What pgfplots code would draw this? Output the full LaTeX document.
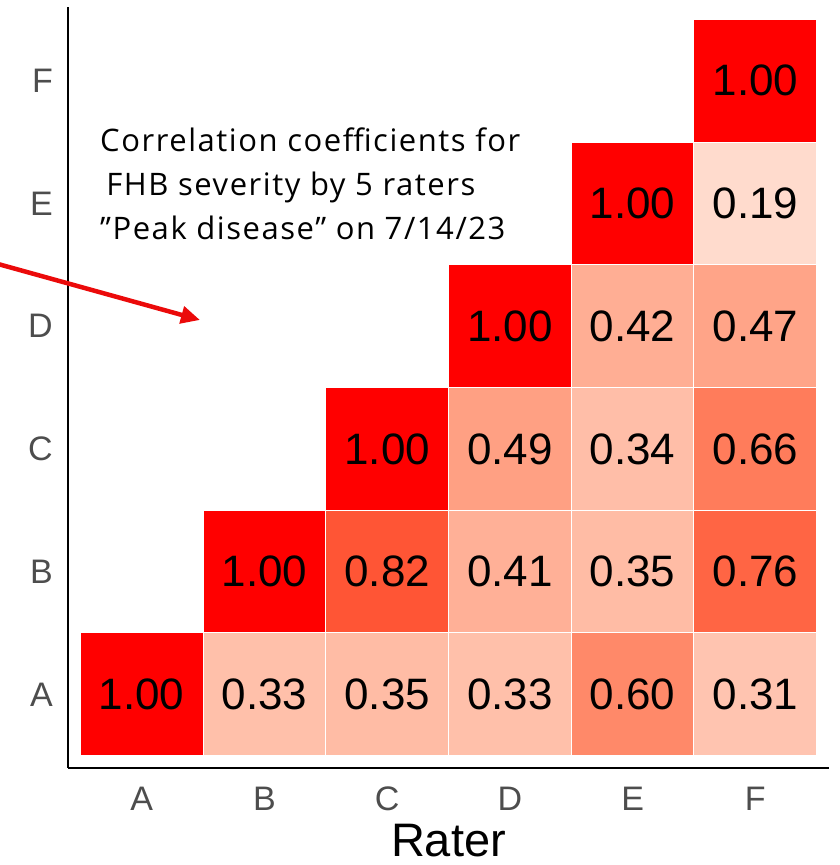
\documentclass[border=0pt]{standalone}
\usepackage{fontspec}
\setmainfont{Liberation Sans}
\newfontfamily\annotfont[LetterSpace=5]{Open Sans}
\usepackage{pgfplots}
\pgfplotsset{compat=1.18}
\usetikzlibrary{arrows.meta}

\definecolor{tickgray}{RGB}{77,77,77}
\definecolor{arrowred}{RGB}{235,10,10}

% tile colours: white -> red in Lab, limits 0..1
\definecolor{r100}{RGB}{255,0,0}
\definecolor{r082}{RGB}{255,85,53}
\definecolor{r076}{RGB}{255,101,68}
\definecolor{r066}{RGB}{255,124,91}
\definecolor{r060}{RGB}{255,137,105}
\definecolor{r049}{RGB}{255,160,131}
\definecolor{r047}{RGB}{255,164,136}
\definecolor{r042}{RGB}{255,174,148}
\definecolor{r041}{RGB}{255,176,151}
\definecolor{r035}{RGB}{255,188,165}
\definecolor{r034}{RGB}{255,190,168}
\definecolor{r033}{RGB}{255,192,170}
\definecolor{r031}{RGB}{255,196,176}
\definecolor{r019}{RGB}{255,219,205}

\pgfplotsset{
  tile/.style={only marks, mark=square*, mark size=61.37pt,
    mark options={fill=#1, draw=white, line width=1pt}},
}

\begin{document}
\begin{tikzpicture}
  \useasboundingbox (0pt,0pt) rectangle (840pt,865pt);

  \begin{axis}[
    at={(68pt,97pt)}, anchor=south west,
    scale only axis, width=761pt, height=761pt,
    xmin=0.4, xmax=6.6, ymin=0.4, ymax=6.6,
    axis x line*=bottom, axis y line*=left,
    axis line style={line width=2pt, black, -},
    major tick length=0pt,
    xtick={1,...,6}, xticklabels={A,B,C,D,E,F},
    ytick={1,...,6}, yticklabels={A,B,C,D,E,F},
    ticklabel style={font=\fontsize{34}{34}\selectfont, text=tickgray, inner sep=0pt},
    xticklabel style={anchor=north, yshift=-19pt},
    yticklabel style={anchor=east, xshift=-15pt},
    xlabel={Rater},
    xlabel style={font=\fontsize{47}{47}\selectfont, at={(axis description cs:0.5,0)},
      anchor=north, inner sep=0pt, yshift=-56pt},
  ]
    \addplot[tile=r100] coordinates {(1,1) (2,2) (3,3) (4,4) (5,5) (6,6)};
    \addplot[tile=r082] coordinates {(3,2)};
    \addplot[tile=r076] coordinates {(6,2)};
    \addplot[tile=r066] coordinates {(6,3)};
    \addplot[tile=r060] coordinates {(5,1)};
    \addplot[tile=r049] coordinates {(4,3)};
    \addplot[tile=r047] coordinates {(6,4)};
    \addplot[tile=r042] coordinates {(5,4)};
    \addplot[tile=r041] coordinates {(4,2)};
    \addplot[tile=r035] coordinates {(3,1) (5,2)};
    \addplot[tile=r034] coordinates {(5,3)};
    \addplot[tile=r033] coordinates {(2,1) (4,1)};
    \addplot[tile=r031] coordinates {(6,1)};
    \addplot[tile=r019] coordinates {(6,5)};

    % cell labels
    \addplot[draw=none, mark=none,
      point meta=explicit symbolic,
      nodes near coords, nodes near coords align=center,
      every node near coord/.append style={font=\fontsize{44}{44}\selectfont, text=black, anchor=center},
    ] coordinates {
      (1,1) [1.00] (2,1) [0.33] (3,1) [0.35] (4,1) [0.33] (5,1) [0.60] (6,1) [0.31]
      (2,2) [1.00] (3,2) [0.82] (4,2) [0.41] (5,2) [0.35] (6,2) [0.76]
      (3,3) [1.00] (4,3) [0.49] (5,3) [0.34] (6,3) [0.66]
      (4,4) [1.00] (5,4) [0.42] (6,4) [0.47]
      (5,5) [1.00] (6,5) [0.19]
      (6,6) [1.00]
    };
  \end{axis}

  \node[anchor=north west, align=left, inner sep=0pt,
        font=\annotfont\fontsize{31}{44}\selectfont] at (100pt,737pt)
    {Correlation coefficients for\\
     \hspace{0.2em}FHB severity by 5 raters\\
     ”Peak disease” on 7/14/23};

  \draw[arrowred, line width=4.5pt, -{Triangle[length=19pt,width=17pt]}]
    (-2pt,601pt) -- (200pt,545pt);
\end{tikzpicture}
\end{document}
